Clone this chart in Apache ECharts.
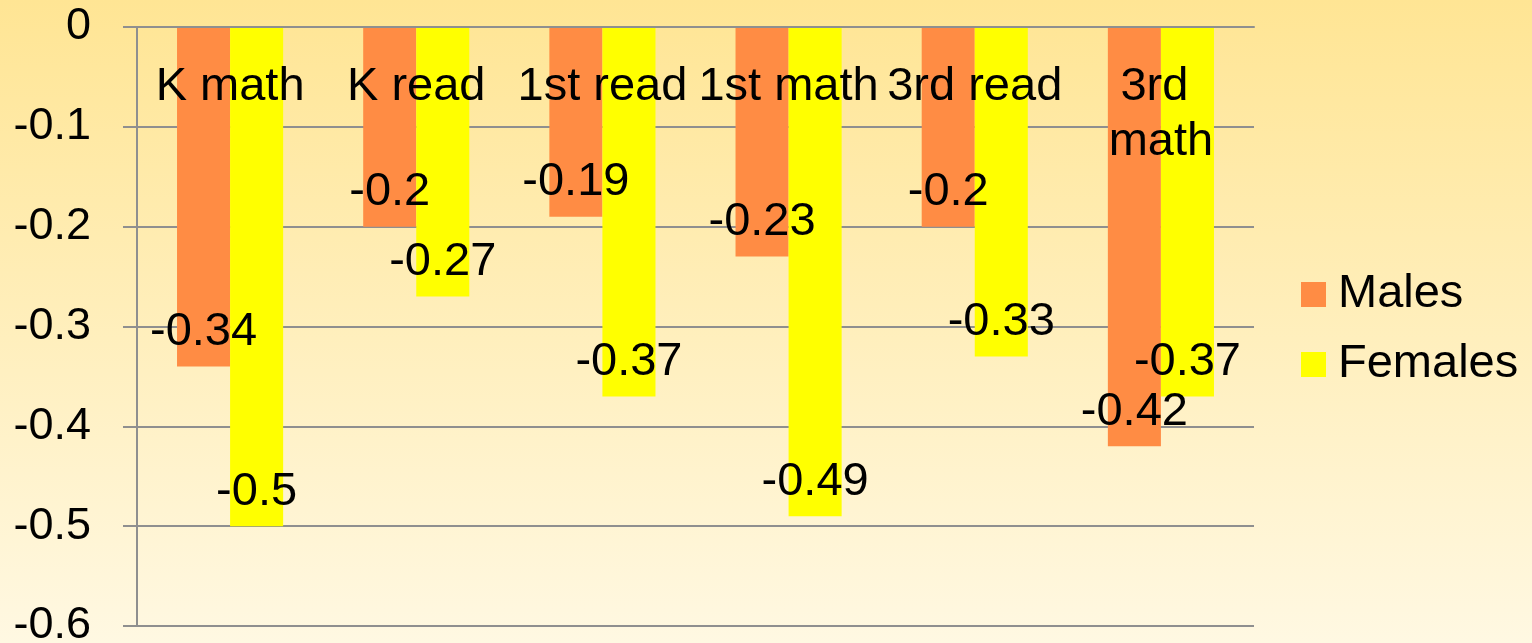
<!DOCTYPE html>
<html>
<head>
<meta charset="utf-8">
<script src="https://cdn.jsdelivr.net/npm/echarts@6/dist/echarts.min.js"></script>
<style>
  html, body { margin: 0; padding: 0; }
  #chart { width: 1532px; height: 643px; }
</style>
</head>
<body>
<div id="chart"></div>
<script>
var categories = ['K math', 'K read', '1st read', '1st math', '3rd read', '3rd math'];
var males = [-0.34, -0.2, -0.19, -0.23, -0.2, -0.42];
var females = [-0.5, -0.27, -0.37, -0.49, -0.33, -0.37];

var font = 'Liberation Sans, Arial, sans-serif';
var gridColor = '#8f8f8f';

var barLabel = {
    show: true,
    position: 'insideBottom',   // end of the bar (bars go downward)
    distance: 11,
    color: '#000',
    fontSize: 47,
    fontFamily: font
};

option = {
    backgroundColor: {
        type: 'linear', x: 0, y: 0, x2: 0, y2: 1,
        colorStops: [{offset: 0, color: '#ffe594'}, {offset: 1, color: '#fff8e2'}]
    },
    textStyle: { fontFamily: font },
    grid: { left: 137, right: 278, top: 27, bottom: 17, outerBoundsMode: 'none' },
    legend: {
        orient: 'vertical',
        left: 1296,
        top: 266,
        itemWidth: 25,
        itemHeight: 25,
        itemGap: 23,
        icon: 'rect',
        textStyle: { fontSize: 47, color: '#000', fontFamily: font, padding: [0, 0, 0, 7] },
        data: ['Males', 'Females']
    },
    xAxis: {
        type: 'category',
        position: 'top',
        z: 5,
        data: categories,
        axisLine: { lineStyle: { color: gridColor, width: 2 } },
        axisTick: { inside: true, length: 14, lineStyle: { color: gridColor, width: 2 } },
        axisLabel: {
            inside: true,
            margin: 33,
            fontSize: 47,
            lineHeight: 55,
            color: '#000',
            fontFamily: font,
            width: 183,
            overflow: 'break',
            interval: 0
        }
    },
    yAxis: {
        type: 'value',
        min: -0.6,
        max: 0,
        interval: 0.1,
        axisLine: { show: true, lineStyle: { color: gridColor, width: 2 } },
        axisTick: { show: true, length: 14, lineStyle: { color: gridColor, width: 2 } },
        splitLine: { lineStyle: { color: gridColor, width: 2 } },
        axisLabel: {
            margin: 46,
            fontSize: 45,
            color: '#000',
            fontFamily: font,
            formatter: function (v) { return String(Math.round(v * 10) / 10); }
        }
    },
    series: [
        {
            name: 'Males',
            type: 'bar',
            data: males,
            barGap: '0%',
            barCategoryGap: '43%',
            itemStyle: { color: '#ff8c44' },
            label: barLabel
        },
        {
            name: 'Females',
            type: 'bar',
            data: females,
            itemStyle: { color: '#ffff00' },
            label: barLabel
        }
    ]
};
var myChart = echarts.init(document.getElementById('chart'));
myChart.setOption(option, true);
</script>
</body>
</html>
